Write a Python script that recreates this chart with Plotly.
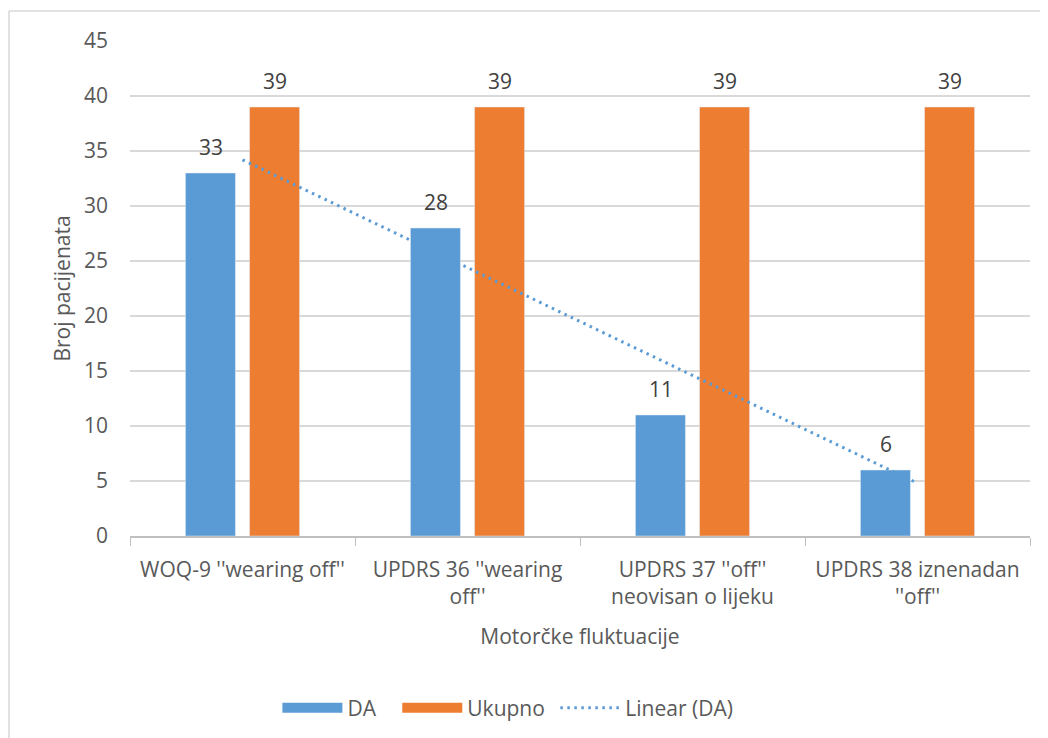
import plotly.graph_objects as go

# --- Podaci ---
kategorije = [
    "WOQ-9 ''wearing off''",
    "UPDRS 36 ''wearing<br>off''",
    "UPDRS 37 ''off''<br>neovisan o lijeku",
    "UPDRS 38 iznenadan<br>''off''",
]
da = [33, 28, 11, 6]
ukupno = [39, 39, 39, 39]
# krajnje tocke linearnog trenda (ocitano s grafa)
trend_x = [kategorije[0], kategorije[-1]]
trend_y = [34.2, 4.8]

PLAVA = "#5B9BD5"
NARANCASTA = "#ED7D31"
SIVA = "#595959"
FONT = "Open Sans"
FS = 21

# stranica ima 8px margine (body), pa su margine pomaknute
W, H = 1048, 738
ML, MR, MT, MB = 122, 26, 33, 210

fig = go.Figure()

fig.add_trace(go.Bar(x=kategorije, y=da, name="DA", marker_color=PLAVA,
                     showlegend=False, hoverinfo="skip"))
fig.add_trace(go.Bar(x=kategorije, y=ukupno, name="Ukupno", marker_color=NARANCASTA,
                     showlegend=False, hoverinfo="skip"))
fig.add_trace(go.Scatter(x=trend_x, y=trend_y, mode="lines", name="Linear (DA)",
                         line=dict(color=PLAVA, width=3, dash="2.5px,4.5px"),
                         showlegend=False, hoverinfo="skip"))

# stavke legende (siroki pravokutnici kao u Excelu)
for naziv, boja, crta, sirina in [("DA" + "\u00a0" * 3, PLAVA, "solid", 14),
                                  ("Ukupno" + "\u00a0", NARANCASTA, "solid", 14),
                                  ("Linear (DA)", PLAVA, "2.5px,4.5px", 3)]:
    fig.add_trace(go.Scatter(x=[None], y=[None], mode="lines", name=naziv,
                             line=dict(color=boja, width=sirina, dash=crta)))

# oznake podataka
for serija, pomak in [(da, -32), (ukupno, 32)]:
    for k, v in zip(kategorije, serija):
        fig.add_annotation(x=k, y=v, text=str(v), showarrow=False,
                           xshift=pomak, yshift=10, yanchor="bottom",
                           font=dict(family=FONT, size=FS, color="#404040"))

# okvir grafikona (lijevo i gore)
pw, ph = W - ML - MR, H - MT - MB
lx = (1 - ML) / pw
ty = (H - MB - 3) / ph
fig.add_shape(type="line", xref="paper", yref="paper", x0=lx, x1=lx, y0=ty, y1=-10,
              line=dict(color="#d9d9d9", width=1.5))
fig.add_shape(type="line", xref="paper", yref="paper", x0=lx, x1=10, y0=ty, y1=ty,
              line=dict(color="#d9d9d9", width=1.5))

fig.update_layout(
    width=W, height=H,
    margin=dict(l=ML, r=MR, t=MT, b=MB),
    paper_bgcolor="white", plot_bgcolor="white",
    font=dict(family=FONT, size=FS, color=SIVA),
    barmode="group", bargap=0.43, bargroupgap=0.22,
    legend=dict(orientation="h", xref="container", yref="container",
                x=0.477, y=0.0515, xanchor="center", yanchor="middle",
                itemwidth=60, font=dict(family=FONT, size=FS, color=SIVA)),
    xaxis=dict(
        title=dict(text="Motorčke fluktuacije", standoff=20,
                   font=dict(family=FONT, size=FS, color=SIVA)),
        showline=True, linecolor="#bfbfbf", linewidth=1.5,
        ticks="outside", tickson="boundaries", ticklen=8, tickcolor="#bfbfbf",
        ticklabelstandoff=14,
        showgrid=False,
    ),
    yaxis=dict(
        title=dict(text="Broj pacijenata", standoff=7,
                   font=dict(family=FONT, size=FS, color=SIVA)),
        range=[0, 45], dtick=5, showline=False, zeroline=False,
        gridcolor="#d9d9d9", gridwidth=1.5,
        ticklabelstandoff=21,
    ),
)

fig.write_html("out.html")
